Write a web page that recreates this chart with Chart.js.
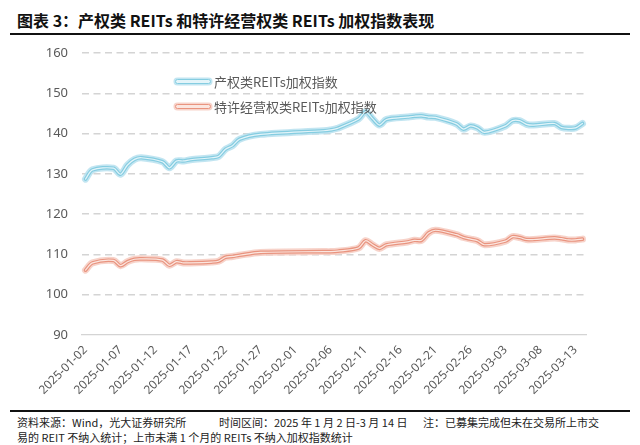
<!DOCTYPE html>
<html>
<head>
<meta charset="utf-8">
<script src="https://cdn.jsdelivr.net/npm/chart.js@4.4.1/dist/chart.umd.min.js"></script>
<style>
  html, body { margin: 0; padding: 0; background: #fff; }
  body { width: 640px; height: 445px; position: relative; overflow: hidden;
         font-family: "Noto Sans CJK SC", "Noto Sans", sans-serif; }
  #title { position: absolute; left: 17px; top: 8px; font-size: 16px; font-weight: bold; color: #111; white-space: nowrap; }
  .rule { position: absolute; left: 10px; width: 620px; height: 2px; background: #111; }
  #wrap { position: absolute; left: 0; top: 0; width: 640px; height: 410px; }
  .foot { position: absolute; font-size: 11px; color: #222; white-space: nowrap; line-height: 14px; }
  .lg { position: absolute; left: 175px; height: 16px; font-size: 13px; color: #595959; white-space: nowrap; line-height: 16px; }
  .lg .sym { display: inline-block; vertical-align: middle; width: 34px; height: 3px; border-radius: 3px; margin-right: 3px; position: relative; top: -2px; }
</style>
</head>
<body>
<div id="title">图表 3：产权类 REITs 和特许经营权类 REITs 加权指数表现</div>
<div class="rule" style="top:33px"></div>
<div id="wrap"><canvas id="c" width="640" height="410"></canvas></div>
<div id="legend"></div>
<div class="rule" style="top:410px"></div>
<div class="foot" style="left:17px; top:415px">资料来源：Wind，光大证券研究所</div>
<div class="foot" style="left:219px; top:415px">时间区间：2025 年 1 月 2 日-3 月 14 日</div>
<div class="foot" style="left:423px; top:415px">注：已募集完成但未在交易所上市交</div>
<div class="foot" style="left:17px; top:430px">易的 REIT 不纳入统计；上市未满 1 个月的 REITs 不纳入加权指数统计</div>
<script>
// ---- data ----
const startDate = '2025-01-02';
const endDate = '2025-03-14';
const tradingDates = [
  '2025-01-02','2025-01-03','2025-01-06','2025-01-07','2025-01-08','2025-01-09','2025-01-10',
  '2025-01-13','2025-01-14','2025-01-15','2025-01-16','2025-01-17','2025-01-20','2025-01-21',
  '2025-01-22','2025-01-23','2025-01-24','2025-01-27',
  '2025-02-05','2025-02-06','2025-02-07','2025-02-10','2025-02-11','2025-02-12','2025-02-13',
  '2025-02-14','2025-02-17','2025-02-18','2025-02-19','2025-02-20','2025-02-21','2025-02-24',
  '2025-02-25','2025-02-26','2025-02-27','2025-02-28',
  '2025-03-03','2025-03-04','2025-03-05','2025-03-06','2025-03-07','2025-03-10','2025-03-11',
  '2025-03-12','2025-03-13','2025-03-14'
];
const propertyIndex = [
  128.7, 131.0, 131.4, 129.9, 132.2, 133.6, 134.0, 133.0, 131.5, 133.2, 133.2, 133.5, 134.0, 134.3,
  136.1, 137.0, 138.6, 139.8,
  140.7, 140.9, 141.3, 143.6, 145.4, 143.7, 142.1, 143.5, 144.1, 144.3, 144.4, 144.1, 144.0, 142.4,
  141.1, 141.9, 141.4, 140.3,
  141.9, 143.2, 143.2, 142.3, 142.1, 142.5, 141.5, 141.3, 141.4, 142.5
];
const concessionIndex = [
  106.1, 107.9, 108.5, 107.2, 108.2, 108.8, 108.9, 108.6, 107.3, 108.2, 107.9, 107.9, 108.1, 108.3,
  109.3, 109.5, 109.8, 110.5,
  110.7, 110.7, 110.8, 111.6, 113.4, 112.4, 111.5, 112.4, 113.1, 113.5, 113.5, 115.3, 116.0, 114.9,
  114.2, 113.8, 113.4, 112.4,
  113.3, 114.4, 114.2, 113.7, 113.7, 114.1, 113.9, 113.6, 113.6, 113.8
];
const seriesNames = ['产权类REITs加权指数', '特许经营权类REITs加权指数'];
const yTicks = [90, 100, 110, 120, 130, 140, 150, 160];
const labelEvery = 5;

// ---- build calendar axis ----
const labels = [];
{
  const d = new Date(startDate + 'T00:00:00Z');
  const e = new Date(endDate + 'T00:00:00Z');
  while (d <= e) { labels.push(d.toISOString().slice(0, 10)); d.setUTCDate(d.getUTCDate() + 1); }
}
function toCalendar(values) {
  const map = {};
  tradingDates.forEach((t, i) => map[t] = values[i]);
  return labels.map(l => (l in map ? map[l] : null));
}

const styles = [
  { glow: 'rgba(183,225,238,0.85)', mid: '#85cde1', core: '#e3f4f9' },
  { glow: 'rgba(246,203,193,0.85)', mid: '#e9947f', core: '#fbe6e0' }
];
const seriesData = [toCalendar(propertyIndex), toCalendar(concessionIndex)];
const datasets = [];
seriesData.forEach((data, s) => {
  const st = styles[s];
  [['glow', 7, 3], ['mid', 3.6, 2], ['core', 1.2, 1]].forEach(([k, w, o]) => {
    datasets.push({
      label: seriesNames[s], data, borderColor: st[k], borderWidth: w, order: o * 2 - s * 0.5 + 2,
      pointRadius: 0, pointHoverRadius: 0, fill: false, spanGaps: true, tension: 0.3,
      borderCapStyle: 'round', borderJoinStyle: 'round'
    });
  });
});

// legend (HTML)
const lg = document.getElementById('legend');
seriesNames.forEach((n, s) => {
  const st = styles[s];
  const el = document.createElement('div');
  el.className = 'lg';
  el.style.top = (74 + s * 25) + 'px';
  el.innerHTML = '<span class="sym" style="background:' + st.core + ';border:1.5px solid ' + st.mid +
    ';box-shadow:0 0 0 1.5px ' + st.glow + '"></span>' + n;
  lg.appendChild(el);
});

new Chart(document.getElementById('c'), {
  type: 'line',
  data: { labels, datasets },
  options: {
    responsive: false, animation: false, devicePixelRatio: 1,
    layout: { padding: { left: 0, right: 54, top: 53, bottom: 0 } },
    plugins: { legend: { display: false }, tooltip: { enabled: false } },
    scales: {
      x: {
        offset: true,
        grid: { display: false, drawTicks: false },
        border: { display: true, color: '#d4d4d4', width: 1.3 },
        ticks: {
          autoSkip: false, maxRotation: 45, minRotation: 45, padding: 8,
          color: '#595959', font: { size: 12, family: '"Noto Sans", "Noto Sans CJK SC", sans-serif' },
          callback: (v, i) => (i % labelEvery === 0 ? labels[i] : null)
        },
        afterFit: s => { s.height = 75; }
      },
      y: {
        min: yTicks[0], max: yTicks[yTicks.length - 1],
        afterBuildTicks: s => { s.ticks = yTicks.map(v => ({ value: v })); },
        grid: {
          drawTicks: false, lineWidth: 1.4,
          color: ctx => (ctx.tick && ctx.tick.value === yTicks[0] ? 'rgba(0,0,0,0)' : '#d4d4d4')
        },
        border: { display: false, dash: [7, 4.5] },
        ticks: { padding: 14, color: '#595959', font: { size: 13, family: '"Noto Sans", sans-serif' } },
        afterFit: s => { s.width = 82; }
      }
    }
  }
});
</script>
</body>
</html>
